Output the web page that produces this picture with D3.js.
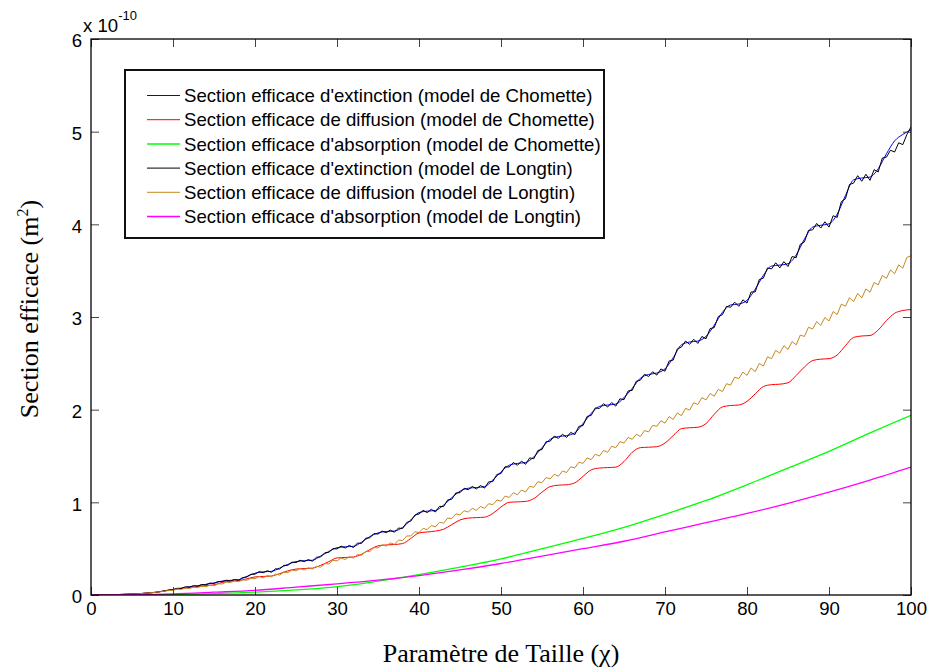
<!DOCTYPE html>
<html>
<head>
<meta charset="utf-8">
<script src="https://cdn.jsdelivr.net/npm/d3@7"></script>
<style>
  body { margin: 0; background: #fff; }
  svg { display: block; background: #fff; }
  .tick text { font-family: "Liberation Sans", Arial, sans-serif; font-size: 18.6px; fill: #000; }
</style>
</head>
<body>
<div id="chart"></div>
<script>
// Tick values
const xTicks = [0, 10, 20, 30, 40, 50, 60, 70, 80, 90, 100];
const yTicks = [0, 1, 2, 3, 4, 5, 6];

// Legend names and colours (MATLAB plot order)
const seriesNames = [
  "Section efficace d'extinction (model de Chomette)",
  "Section efficace de diffusion (model de Chomette)",
  "Section efficace d'absorption (model de Chomette)",
  "Section efficace d'extinction (model de Longtin)",
  "Section efficace de diffusion (model de Longtin)",
  "Section efficace d'absorption (model de Longtin)"
];
const seriesColors = ["#0000ff", "#ff0000", "#00ff00", "#000000", "#c5891f", "#ff00ff"];

// Sample grids of the size parameter
const xStep1 = d3.range(0, 101);
const xStep5 = d3.range(0, 101, 5);
const xStepHalf = d3.range(0, 100.5, 0.5);

// Values, in units of 1e-10 m^2
const extChomette = [
  0, 0.001, 0.002, 0.004, 0.007, 0.01, 0.015, 0.022, 0.03, 0.045,
  0.06, 0.075, 0.09, 0.10, 0.115, 0.13, 0.15, 0.158, 0.165, 0.20,
  0.235, 0.25, 0.255, 0.29, 0.33, 0.36, 0.37, 0.375, 0.42, 0.47,
  0.51, 0.52, 0.525, 0.57, 0.63, 0.67, 0.685, 0.69, 0.73, 0.81,
  0.89, 0.905, 0.912, 0.97, 1.05, 1.12, 1.152, 1.16, 1.17, 1.24,
  1.33, 1.40, 1.42, 1.43, 1.49, 1.59, 1.68, 1.71, 1.72, 1.75,
  1.85, 1.96, 2.035, 2.05, 2.06, 2.13, 2.23, 2.34, 2.38, 2.395,
  2.44, 2.56, 2.70, 2.73, 2.74, 2.79, 2.91, 3.05, 3.13, 3.14,
  3.18, 3.30, 3.45, 3.55, 3.56, 3.575, 3.67, 3.84, 3.97, 3.99,
  4.005, 4.11, 4.31, 4.48, 4.50, 4.51, 4.60, 4.76, 4.90, 4.97,
  5.02
];

const diffChomette = [
  0, 0.001, 0.002, 0.004, 0.007, 0.01, 0.015, 0.022, 0.03, 0.045,
  0.06, 0.07, 0.08, 0.09, 0.10, 0.11, 0.135, 0.15, 0.155, 0.175,
  0.195, 0.20, 0.205, 0.23, 0.26, 0.28, 0.285, 0.29, 0.32, 0.36,
  0.40, 0.405, 0.41, 0.44, 0.49, 0.53, 0.54, 0.545, 0.555, 0.61,
  0.67, 0.68, 0.69, 0.71, 0.76, 0.81, 0.83, 0.835, 0.84, 0.88,
  0.95, 1.00, 1.005, 1.01, 1.04, 1.11, 1.17, 1.185, 1.19, 1.21,
  1.28, 1.35, 1.37, 1.375, 1.38, 1.44, 1.54, 1.59, 1.595, 1.60,
  1.64, 1.72, 1.795, 1.805, 1.81, 1.85, 1.95, 2.03, 2.045, 2.05,
  2.09, 2.17, 2.25, 2.27, 2.275, 2.29, 2.37, 2.46, 2.53, 2.545,
  2.55, 2.59, 2.69, 2.78, 2.795, 2.80, 2.86, 2.96, 3.04, 3.07,
  3.08
];

const absChomette = [
  0, 0.001, 0.005, 0.015, 0.03, 0.055, 0.09, 0.15, 0.22, 0.30, 0.39,
  0.50, 0.61, 0.73, 0.87, 1.02, 1.19, 1.37, 1.55, 1.75, 1.94
];

const extLongtin = [
  0, 0.0005, 0.001, 0.0015, 0.002, 0.003, 0.004, 0.0055, 0.007, 0.0085,
  0.01, 0.0125, 0.015, 0.0185, 0.022, 0.026, 0.03, 0.0375, 0.045, 0.0525,
  0.054, 0.0735, 0.069, 0.0885, 0.084, 0.101, 0.094, 0.1135, 0.109, 0.1285,
  0.124, 0.146, 0.144, 0.160, 0.152, 0.1675, 0.159, 0.1885, 0.194, 0.2235,
  0.225, 0.2525, 0.24, 0.2625, 0.245, 0.2825, 0.28, 0.32, 0.32, 0.355,
  0.35, 0.375, 0.36, 0.3825, 0.365, 0.4075, 0.41, 0.455, 0.46, 0.50,
  0.497, 0.528, 0.507, 0.5355, 0.512, 0.5605, 0.557, 0.613, 0.617, 0.663,
  0.657, 0.6905, 0.672, 0.7005, 0.677, 0.723, 0.717, 0.783, 0.797, 0.863,
  0.874, 0.9135, 0.889, 0.9245, 0.896, 0.957, 0.954, 1.026, 1.034, 1.101,
  1.104, 1.152, 1.136, 1.172, 1.144, 1.181, 1.154, 1.221, 1.224, 1.301,
  1.31, 1.385, 1.38, 1.43, 1.40, 1.445, 1.41, 1.48, 1.47, 1.56,
  1.57, 1.655, 1.66, 1.715, 1.69, 1.735, 1.70, 1.755, 1.73, 1.82,
  1.828, 1.927, 1.938, 2.0195, 2.013, 2.0645, 2.028, 2.077, 2.038, 2.117,
  2.108, 2.202, 2.208, 2.307, 2.318, 2.382, 2.358, 2.4095, 2.373, 2.4395,
  2.415, 2.525, 2.535, 2.655, 2.675, 2.74, 2.705, 2.76, 2.715, 2.79,
  2.765, 2.875, 2.885, 3.005, 3.025, 3.115, 3.105, 3.16, 3.115, 3.185,
  3.15, 3.27, 3.27, 3.405, 3.42, 3.53, 3.52, 3.585, 3.53, 3.5975,
  3.545, 3.6525, 3.64, 3.785, 3.81, 3.935, 3.94, 4.01, 3.96, 4.0275,
  3.97, 4.0925, 4.075, 4.245, 4.275, 4.43, 4.445, 4.525, 4.465, 4.54,
  4.475, 4.59, 4.565, 4.715, 4.725, 4.80, 4.78, 4.88, 4.86, 4.97,
  5.05
];

const diffLongtin = [
  0, 0.0005, 0.001, 0.0015, 0.002, 0.003, 0.004, 0.0055, 0.007, 0.0085,
  0.01, 0.0125, 0.015, 0.0185, 0.022, 0.026, 0.03, 0.036, 0.042, 0.0485,
  0.049, 0.066, 0.059, 0.076, 0.069, 0.086, 0.079, 0.096, 0.089, 0.106,
  0.099, 0.121, 0.119, 0.1385, 0.134, 0.151, 0.144, 0.1635, 0.159, 0.181,
  0.175, 0.20, 0.185, 0.21, 0.195, 0.225, 0.215, 0.2475, 0.24, 0.27,
  0.26, 0.285, 0.27, 0.295, 0.28, 0.31, 0.30, 0.3375, 0.335, 0.3725,
  0.368, 0.3995, 0.383, 0.4145, 0.398, 0.437, 0.428, 0.472, 0.468, 0.512,
  0.508, 0.542, 0.528, 0.562, 0.548, 0.592, 0.588, 0.637, 0.638, 0.682,
  0.675, 0.72, 0.705, 0.75, 0.735, 0.785, 0.775, 0.83, 0.825, 0.875,
  0.865, 0.91, 0.895, 0.935, 0.915, 0.955, 0.935, 0.985, 0.975, 1.025,
  1.012, 1.068, 1.052, 1.103, 1.082, 1.133, 1.112, 1.173, 1.162, 1.223,
  1.212, 1.268, 1.252, 1.303, 1.282, 1.338, 1.322, 1.383, 1.372, 1.433,
  1.42, 1.48, 1.46, 1.52, 1.50, 1.56, 1.54, 1.605, 1.59, 1.655,
  1.64, 1.70, 1.68, 1.735, 1.71, 1.775, 1.76, 1.83, 1.82, 1.88,
  1.855, 1.925, 1.895, 1.965, 1.935, 2.015, 1.995, 2.075, 2.055, 2.13,
  2.105, 2.175, 2.145, 2.22, 2.195, 2.28, 2.265, 2.35, 2.335, 2.405,
  2.37, 2.45, 2.41, 2.50, 2.47, 2.57, 2.55, 2.64, 2.61, 2.69,
  2.65, 2.735, 2.70, 2.805, 2.79, 2.89, 2.87, 2.95, 2.91, 2.995,
  2.957, 3.058, 3.027, 3.138, 3.117, 3.208, 3.167, 3.253, 3.207, 3.303,
  3.267, 3.373, 3.347, 3.448, 3.417, 3.508, 3.467, 3.563, 3.527, 3.643,
  3.66
];

const absLongtin = [
  0, 0.003, 0.012, 0.03, 0.05, 0.085, 0.12, 0.16, 0.21, 0.27, 0.34,
  0.42, 0.50, 0.58, 0.68, 0.78, 0.88, 0.99, 1.11, 1.24, 1.38
];

function buildChart() {

  // Basic Set up
  const margin = {top: 39, right: 23, bottom: 73, left: 91};
  const width = 934 - margin.left - margin.right;
  const height = 668 - margin.top - margin.bottom;

  const svg = d3.select("#chart")
    .append("svg")
      .attr("width", 934)
      .attr("height", 668);

  const chart = svg.append("g")
      .attr("transform", "translate(" + margin.left + "," + margin.top + ")");

  // Scales
  let x = d3.scaleLinear().domain([0, 100]).range([0, width]);
  let y = d3.scaleLinear().domain([0, 6]).range([height, 0]);

  // Clip curves to the axes box
  chart.append("clipPath")
      .attr("id", "plot-clip")
    .append("rect")
      .attr("width", width)
      .attr("height", height);

  // Curves, in the order they were plotted
  const series = [
    {xs: xStep1, values: extChomette, curve: d3.curveMonotoneX},
    {xs: xStep1, values: diffChomette, curve: d3.curveMonotoneX},
    {xs: xStep5, values: absChomette, curve: d3.curveMonotoneX},
    {xs: xStepHalf, values: extLongtin, curve: d3.curveLinear},
    {xs: xStepHalf, values: diffLongtin, curve: d3.curveLinear},
    {xs: xStep5, values: absLongtin, curve: d3.curveMonotoneX}
  ];

  series.forEach((s, k) => {
    let valueline = d3.line()
      .x(function(d, i) { return x(s.xs[i]); })
      .y(function(d) { return y(d); })
      .curve(s.curve);

    chart.append("path")
      .datum(s.values)
      .attr("fill", "none")
      .attr("stroke", seriesColors[k])
      .attr("stroke-width", (k === 2 || k === 5) ? 1.3 : 1)
      .attr("stroke-linejoin", "round")
      .attr("clip-path", "url(#plot-clip)")
      .attr("d", valueline);
  });

  // X-Axis (ticks point inward)
  chart.append("g")
    .attr("transform", "translate(0," + height + ")")
    .call(d3.axisBottom(x).tickValues(xTicks).tickSize(-8).tickPadding(7).tickFormat(d3.format("d")))
    .call(a => a.select(".domain").remove())
    .call(a => a.selectAll(".tick line").attr("stroke", "#444"));

  // Y-Axis
  chart.append("g")
    .call(d3.axisLeft(y).tickValues(yTicks).tickSize(-8).tickPadding(9).tickFormat(d3.format("d")))
    .call(a => a.select(".domain").remove())
    .call(a => a.selectAll(".tick line").attr("stroke", "#444"))
    .call(a => a.selectAll(".tick text").attr("dy", "0.42em"));

  // Mirror ticks on top and right
  chart.append("g")
    .call(d3.axisTop(x).tickValues(xTicks).tickSize(-8).tickFormat(""))
    .call(a => a.select(".domain").remove())
    .call(a => a.selectAll(".tick line").attr("stroke", "#444"));

  chart.append("g")
    .attr("transform", "translate(" + width + ",0)")
    .call(d3.axisRight(y).tickValues(yTicks).tickSize(-8).tickFormat(""))
    .call(a => a.select(".domain").remove())
    .call(a => a.selectAll(".tick line").attr("stroke", "#444"));

  // Axes box
  chart.append("rect")
    .attr("width", width)
    .attr("height", height)
    .attr("fill", "none")
    .attr("stroke", "#000")
    .attr("stroke-width", 1.3);

  // Exponent label
  const expo = svg.append("text")
    .attr("x", 83)
    .attr("y", 32)
    .style("font-family", "'Liberation Sans', Arial, sans-serif")
    .style("font-size", "18.6px")
    .text("x 10");
  expo.append("tspan")
    .attr("dy", -12)
    .style("font-size", "13px")
    .text("-10");

  // X-Axis Label
  svg.append("text")
    .attr("x", margin.left + width / 2)
    .attr("y", 662)
    .style("text-anchor", "middle")
    .style("font-family", "'Liberation Serif', 'Times New Roman', serif")
    .style("font-size", "26px")
    .text("Paramètre de Taille (χ)");

  // Y-Axis Label
  const ylab = svg.append("text")
    .attr("transform", "translate(38,309) rotate(-90)")
    .style("text-anchor", "middle")
    .style("font-family", "'Liberation Serif', 'Times New Roman', serif")
    .style("font-size", "26px")
    .text("Section efficace (m");
  ylab.append("tspan")
    .attr("dy", -10)
    .style("font-size", "16px")
    .text("2");
  ylab.append("tspan")
    .attr("dy", 10)
    .text(")");

  // Legend
  const legend = svg.append("g")
    .attr("transform", "translate(125,70)");

  legend.append("rect")
    .attr("width", 479)
    .attr("height", 168)
    .attr("fill", "#fff")
    .attr("stroke", "#111")
    .attr("stroke-width", 2);

  seriesNames.forEach((name, k) => {
    const row = 25.5 + k * 24.2;
    legend.append("line")
      .attr("x1", 22).attr("x2", 55)
      .attr("y1", row).attr("y2", row)
      .attr("stroke", seriesColors[k])
      .attr("stroke-width", (k === 2 || k === 5) ? 1.5 : 1);
    legend.append("text")
      .attr("x", 59)
      .attr("y", row)
      .attr("dy", "0.36em")
      .style("font-family", "'Liberation Sans', Arial, sans-serif")
      .style("font-size", "18.6px")
      .text(name);
  });
}
buildChart();
</script>
</body>
</html>
